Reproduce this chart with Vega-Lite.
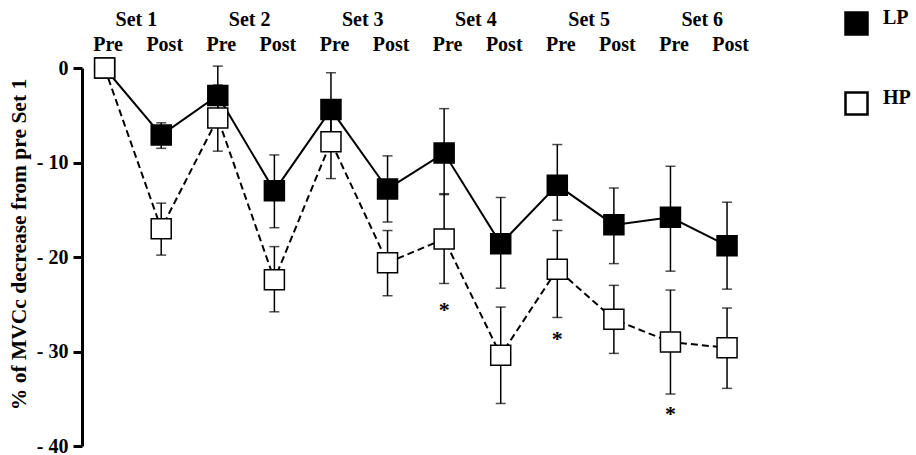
{
  "$schema": "https://vega.github.io/schema/vega-lite/v6.json",
  "autosize": "none",
  "width": 679,
  "height": 378,
  "padding": {"left": 82, "top": 68, "right": 155, "bottom": 9},
  "background": "white",
  "config": {
    "view": {"stroke": null},
    "font": "Liberation Serif"
  },
  "datasets": {
    "points": [
      {"idx": 1, "group": "LP", "m": 0, "lo": 0, "hi": 0},
      {"idx": 2, "group": "LP", "m": -7.1, "lo": -8.5, "hi": -5.8},
      {"idx": 3, "group": "LP", "m": -2.9, "lo": -6.0, "hi": 0.2},
      {"idx": 4, "group": "LP", "m": -13.0, "lo": -16.9, "hi": -9.2},
      {"idx": 5, "group": "LP", "m": -4.4, "lo": -8.3, "hi": -0.5},
      {"idx": 6, "group": "LP", "m": -12.8, "lo": -16.3, "hi": -9.3},
      {"idx": 7, "group": "LP", "m": -9.0, "lo": -13.4, "hi": -4.3},
      {"idx": 8, "group": "LP", "m": -18.6, "lo": -23.3, "hi": -13.7},
      {"idx": 9, "group": "LP", "m": -12.4, "lo": -16.1, "hi": -8.1},
      {"idx": 10, "group": "LP", "m": -16.6, "lo": -20.7, "hi": -12.7},
      {"idx": 11, "group": "LP", "m": -15.8, "lo": -21.5, "hi": -10.4},
      {"idx": 12, "group": "LP", "m": -18.8, "lo": -23.4, "hi": -14.2},
      {"idx": 1, "group": "HP", "m": 0, "lo": 0, "hi": 0},
      {"idx": 2, "group": "HP", "m": -17.0, "lo": -19.8, "hi": -14.3},
      {"idx": 3, "group": "HP", "m": -5.3, "lo": -8.8, "hi": -1.8},
      {"idx": 4, "group": "HP", "m": -22.4, "lo": -25.8, "hi": -18.9},
      {"idx": 5, "group": "HP", "m": -7.8, "lo": -11.7, "hi": -3.9},
      {"idx": 6, "group": "HP", "m": -20.6, "lo": -24.1, "hi": -17.2},
      {"idx": 7, "group": "HP", "m": -18.1, "lo": -22.8, "hi": -13.3},
      {"idx": 8, "group": "HP", "m": -30.4, "lo": -35.5, "hi": -25.3},
      {"idx": 9, "group": "HP", "m": -21.3, "lo": -26.4, "hi": -17.2},
      {"idx": 10, "group": "HP", "m": -26.6, "lo": -30.2, "hi": -23.0},
      {"idx": 11, "group": "HP", "m": -29.0, "lo": -34.5, "hi": -23.5},
      {"idx": 12, "group": "HP", "m": -29.6, "lo": -33.9, "hi": -25.4}
    ],
    "stars": [
      {"idx": 7, "y": -25.5, "label": "*"},
      {"idx": 9, "y": -28.6, "label": "*"},
      {"idx": 11, "y": -36.5, "label": "*"}
    ]
  },
  "resolve": {"axis": {"x": "independent"}},
  "layer": [
    {
      "data": {"name": "points"},
      "transform": [{"filter": "datum.group == 'LP'"}],
      "mark": {"type": "line", "color": "black", "strokeWidth": 2},
      "encoding": {
        "x": {
          "field": "idx", "type": "quantitative",
          "scale": {"domain": [0.6, 12.6], "nice": false, "zero": false},
          "axis": {
            "orient": "top", "values": [1,2,3,4,5,6,7,8,9,10,11,12],
            "labelExpr": "datum.value % 2 == 1 ? 'Pre' : 'Post'",
            "domain": false, "ticks": false, "tickSize": 0, "grid": false,
            "title": null, "labelPadding": 14, "labelAngle": 0,
            "labelFlush": false, "labelOverlap": false, "labelOffset": 3,
            "labelFont": "Liberation Serif", "labelFontSize": 20,
            "labelFontWeight": "bold", "labelColor": "black"
          }
        },
        "y": {
          "field": "m", "type": "quantitative",
          "scale": {"domain": [-40, 0], "nice": false, "zero": false},
          "axis": {
            "title": "% of MVCc decrease from  pre Set 1",
            "values": [0, -10, -20, -30, -40],
            "labelExpr": "datum.value == 0 ? '0' : '- ' + abs(datum.value)",
            "grid": false,
            "domainWidth": 3, "domainColor": "black",
            "tickWidth": 3, "tickColor": "black", "tickSize": 9,
            "labelPadding": 5,
            "labelFont": "Liberation Serif", "labelFontSize": 20,
            "labelFontWeight": "bold", "labelColor": "black",
            "titleFont": "Liberation Serif", "titleFontSize": 21.5,
            "titleFontWeight": "bold", "titleColor": "black",
            "titlePadding": 6, "titleY": 176
          }
        },
        "order": {"field": "idx", "type": "quantitative"}
      }
    },
    {
      "data": {"name": "points"},
      "transform": [{"filter": "datum.group == 'HP'"}],
      "mark": {"type": "line", "color": "black", "strokeWidth": 2, "strokeDash": [7, 4]},
      "encoding": {
        "x": {"field": "idx", "type": "quantitative", "axis": null},
        "y": {"field": "m", "type": "quantitative", "title": "% of MVCc decrease from  pre Set 1"},
        "order": {"field": "idx", "type": "quantitative"}
      }
    },
    {
      "data": {"name": "points"},
      "mark": {"type": "errorbar", "thickness": 1.5, "color": "black", "ticks": {"size": 10, "thickness": 1.5, "color": "black"}},
      "encoding": {
        "x": {"field": "idx", "type": "quantitative", "axis": null},
        "y": {"field": "lo", "type": "quantitative", "title": "% of MVCc decrease from  pre Set 1"},
        "y2": {"field": "hi"}
      }
    },
    {
      "data": {"name": "points"},
      "mark": {"type": "square", "size": 400, "stroke": "black", "strokeWidth": 1.5, "opacity": 1},
      "encoding": {
        "x": {"field": "idx", "type": "quantitative", "axis": null},
        "y": {"field": "m", "type": "quantitative", "title": "% of MVCc decrease from  pre Set 1"},
        "fill": {
          "field": "group", "type": "nominal",
          "scale": {"domain": ["LP", "HP"], "range": ["black", "white"]},
          "legend": {
            "orient": "none", "legendX": 762, "legendY": -57,
            "title": null, "padding": 0,
            "symbolType": "square", "symbolSize": 484,
            "symbolStrokeColor": "black", "symbolStrokeWidth": 2.5,
            "symbolOpacity": 1,
            "rowPadding": 47, "labelOffset": 14,
            "labelFont": "Liberation Serif", "labelFontSize": 20,
            "labelFontWeight": "bold", "labelColor": "black",
            "labelBaseline": "alphabetic"
          }
        }
      }
    },
    {
      "data": {"name": "stars"},
      "mark": {"type": "text", "font": "Liberation Serif", "fontSize": 22, "fontWeight": "bold", "color": "black", "baseline": "middle", "dy": 1},
      "encoding": {
        "x": {
          "field": "idx", "type": "quantitative",
          "axis": {
            "orient": "top", "values": [1.5, 3.5, 5.5, 7.5, 9.5, 11.5],
            "labelExpr": "'Set ' + (datum.value + 0.5) / 2",
            "domain": false, "ticks": false, "tickSize": 0, "grid": false,
            "title": null, "labelPadding": 14, "offset": 25, "labelAngle": 0,
            "labelFlush": false, "labelOverlap": false, "labelOffset": 3,
            "labelFont": "Liberation Serif", "labelFontSize": 20,
            "labelFontWeight": "bold", "labelColor": "black"
          }
        },
        "y": {"field": "y", "type": "quantitative", "title": "% of MVCc decrease from  pre Set 1"},
        "text": {"field": "label"}
      }
    }
  ]
}
